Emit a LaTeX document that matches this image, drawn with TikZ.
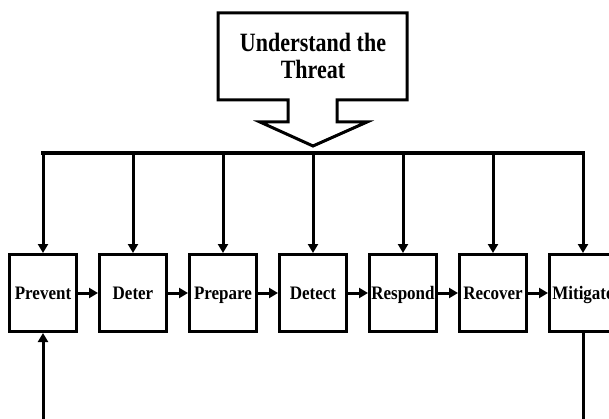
\documentclass[tikz,border=0pt]{standalone}
\usepackage{fontspec}
\setmainfont{Liberation Serif}
\usepackage{tikz}
\usetikzlibrary{positioning,arrows.meta}

\tikzset{
  stage/.style={draw, line width=3pt, minimum width=67pt, minimum height=77pt,
    inner sep=0pt, text height=16pt, text depth=3.5pt,
    font=\bfseries\fontsize{17}{19}\selectfont},
  flow/.style={line width=3pt, ->},
  >={Triangle[length=9pt,width=10pt]}
}
\newcommand{\tall}[1]{\scalebox{1}[1.12]{#1}}

\begin{document}
\begin{tikzpicture}[x=1pt, y=-1pt, node distance=20pt]
  \clip (0,0) rectangle (609,419);
  \useasboundingbox (0,0) rectangle (609,419);

  % big arrow at the top
  \draw[line width=3pt, line join=miter, fill=white]
    (218,13) -- (407,13) -- (407,100) -- (337,100) -- (337,122) -- (367,122)
    -- (313,146) coordinate (tip) -- (260,122) -- (288,122) -- (288,100)
    -- (218,100) -- cycle;
  \node[font=\bfseries\fontsize{22}{22.5}\selectfont] (threat) at (313,60)
    {\scalebox{1}[1.2]{\begin{tabular}{@{}c@{}}Understand the\\Threat\end{tabular}}};

  % the stages
  \node[stage] (prevent) at (43,293) {\tall{Prevent}};
  \node[stage, right=of prevent] (deter) {\tall{Deter}};
  \node[stage, right=of deter] (prepare) {\tall{Prepare}};
  \node[stage, right=of prepare] (detect) {\tall{Detect}};
  \node[stage, right=of detect] (respond) {\tall{Respond}};
  \node[stage, right=of respond] (recover) {\tall{Recover}};
  \node[stage, right=of recover] (mitigate) {\tall{Mitigate}};

  % bar and feeds
  \coordinate (barL) at (41,153);
  \coordinate (barR) at (585,153);
  \draw[line width=4pt] (barL) -- (barR);
  \foreach \s in {prevent,deter,prepare,detect,respond,recover,mitigate}
    \draw[flow] (\s.north |- barL) -- (\s.north);

  \path[flow]
    (prevent) edge (deter)
    (deter) edge (prepare)
    (prepare) edge (detect)
    (detect) edge (respond)
    (respond) edge (recover)
    (recover) edge (mitigate);

  % loop back
  \coordinate (loopL) at (prevent.south |- 0,430);
  \coordinate (loopR) at (mitigate.south |- 0,430);
  \draw[flow] (loopL) -- (prevent.south);
  \draw[line width=3pt] (mitigate.south) -- (loopR);
\end{tikzpicture}
\end{document}
